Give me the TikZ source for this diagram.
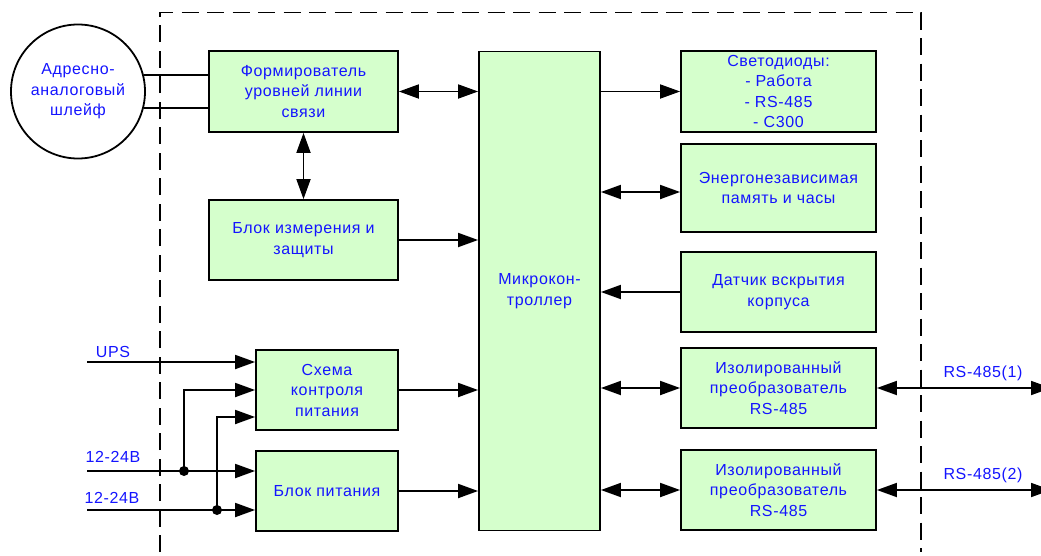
\documentclass[tikz,border=0pt]{standalone}
\usepackage{fontspec}
\setmainfont{Liberation Sans}[LetterSpace=4]
\usetikzlibrary{arrows.meta,calc}
\definecolor{boxfill}{RGB}{213,255,204}
\definecolor{txtblue}{RGB}{20,20,255}
\tikzset{
  blk/.style={draw=black, line width=1.8pt, fill=boxfill, inner sep=0pt,
    text=txtblue, align=center, font=\fontsize{16}{20.5}\selectfont},
  lbl/.style={text=txtblue, inner sep=0pt, font=\fontsize{16}{20.5}\selectfont},
  con/.style={line width=1.8pt, -{Triangle[length=20pt,width=14pt]}},
  bicon/.style={line width=1.8pt, {Triangle[length=20pt,width=14pt]}-{Triangle[length=20pt,width=14pt]}},
  wire/.style={line width=1.8pt},
  frame/.style={line width=1.5pt, dash pattern=on 17pt off 8.5pt},
  dot/.style={circle, fill=black, inner sep=0pt, minimum size=10pt}
}
\begin{document}
\begin{tikzpicture}[x=1pt,y=-1pt]
\useasboundingbox (0,0) rectangle (1041,555);
% frame
\draw[frame] (160,552) -- (160,12.5) -- (921,12.5) -- (921,552);
% loop
\node[draw=black, line width=1.8pt, circle, minimum size=134pt, inner sep=0pt,
  text=txtblue, align=center, font=\fontsize{16}{20.5}\selectfont] (loop) at (78,91.5)
  {Адресно-\\аналоговый\\шлейф};
% blocks
\node[blk, minimum width=189pt, minimum height=81pt] (form) at (303.5,91.5) {Формирователь\\уровней линии\\связи};
\node[blk, minimum width=189pt, minimum height=80pt] (meas) at (303.5,240) {Блок измерения и\\защиты};
\node[blk, minimum width=121pt, minimum height=479pt] (mc) at (539.5,291) {Микрокон-\\троллер};
\node[blk, minimum width=195pt, minimum height=81pt] (led) at (778.5,91.5) {Светодиоды:\\- Работа\\- RS-485\\- С300};
\node[blk, minimum width=195pt, minimum height=88pt] (mem) at (778.5,188) {Энергонезависимая\\память и часы};
\node[blk, minimum width=195pt, minimum height=80pt] (sens) at (778.5,292) {Датчик вскрытия\\корпуса};
\node[blk, minimum width=195pt, minimum height=80pt] (iso1) at (778.5,388) {Изолированный\\преобразователь\\RS-485};
\node[blk, minimum width=195pt, minimum height=80pt] (iso2) at (778.5,490) {Изолированный\\преобразователь\\RS-485};
\node[blk, minimum width=142pt, minimum height=80pt] (pwr) at (327,390) {Схема\\контроля\\питания};
\node[blk, minimum width=142pt, minimum height=80pt] (psu) at (327,491) {Блок питания};
% loop wires
\draw[wire] (loop.14) -- (loop.14 -| form.west);
\draw[wire] (loop.-14) -- (loop.-14 -| form.west);
% internal connections
\draw[bicon] (form.east) -- (form.east -| mc.west);
\draw[bicon] (form.south) -- (meas.north);
\draw[con] (meas.east) -- (meas.east -| mc.west);
\draw[con] (mc.east |- led.west) -- (led.west);
\draw[bicon] ($(mc.east |- mem.west)+(0,4)$) -- ($(mem.west)+(0,4)$);
\draw[con] (sens.west) -- (sens.west -| mc.east);
\draw[bicon] (mc.east |- iso1.west) -- (iso1.west);
\draw[bicon] (mc.east |- iso2.west) -- (iso2.west);
\draw[con] (pwr.east) -- (pwr.east -| mc.west);
\draw[con] (psu.east) -- (psu.east -| mc.west);
% external RS-485
\coordinate (r1) at (1051,388);
\coordinate (r2) at (1051,490);
\draw[bicon] (iso1.east) -- (r1);
\draw[bicon] (iso2.east) -- (r2);
\node[lbl] (l485a) at (983,373) {RS-485(1)};
\node[lbl] (l485b) at (983,475) {RS-485(2)};
% power inputs
\coordinate (ups) at (87,362);
\coordinate (in1) at (87,471);
\coordinate (in2) at (87,510);
\node[dot] (d1) at (184,471) {};
\node[dot] (d2) at (217,510) {};
\draw[con] (ups) -- (ups -| pwr.west);
\draw[con] (in1) -- (in1 -| psu.west);
\draw[con] (in2) -- (in2 -| psu.west);
\draw[con] (d1.center) |- (pwr.west);
\draw[con] (d2.center) |- ([yshift=-27pt]pwr.west);
\node[lbl] (lups) at (113,352) {UPS};
\node[lbl] (lin1) at (113,457) {12-24В};
\node[lbl] (lin2) at (112,498) {12-24В};
\end{tikzpicture}
\end{document}
